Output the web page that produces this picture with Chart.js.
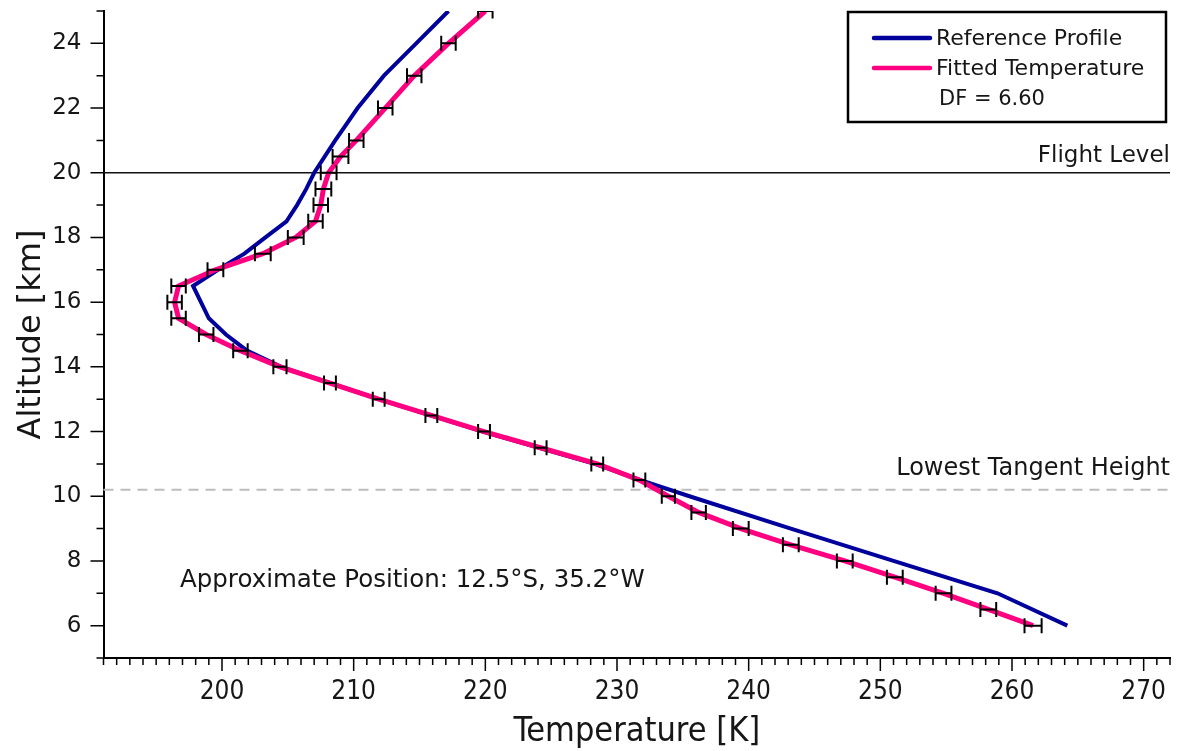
<!DOCTYPE html>
<html>
<head>
<meta charset="utf-8">
<script src="https://cdn.jsdelivr.net/npm/chart.js@4.4.0/dist/chart.umd.min.js"></script>
<style>
  html, body { margin: 0; padding: 0; background: #fff; }
  #wrap { width: 1180px; height: 751px; }
</style>
</head>
<body>
<div id="wrap"><canvas id="profileChart" width="1180" height="751"></canvas></div>
<script>
// 擬合溫度 (含誤差) 與參考剖面，高度單位 km，溫度單位 K
const fitAltitudes = [6, 6.5, 7, 7.5, 8, 8.5, 9, 9.5, 10, 10.5, 11, 11.5, 12, 12.5, 13, 13.5, 14, 14.5,
    15, 15.5, 16, 16.5, 17, 17.5, 18, 18.5, 19, 19.5, 20, 20.5, 21, 22, 23, 24, 25];
const fitTemps = [261.6, 258.2, 254.8, 251.1, 247.3, 243.2, 239.4, 236.2, 233.9, 231.7, 228.5, 224.2, 219.9, 215.9,
    211.9, 208.2, 204.4, 201.4, 198.8, 196.7, 196.4, 196.7, 199.5, 203.1, 205.6, 207.1, 207.5, 207.7,
    208.1, 209.0, 210.2, 212.4, 214.6, 217.2, 220.0];
const fitErrors = [0.65, 0.6, 0.6, 0.6, 0.6, 0.6, 0.6, 0.55, 0.5, 0.45, 0.45, 0.45, 0.45, 0.45, 0.45, 0.45, 0.5, 0.55,
    0.55, 0.55, 0.55, 0.55, 0.6, 0.6, 0.6, 0.55, 0.55, 0.6, 0.6, 0.6, 0.55, 0.55, 0.55, 0.55, 0.55];

const refAltitudes = [6, 7, 8, 9, 10, 10.5, 11, 12, 13, 14, 14.5, 15, 15.5, 16.5, 17, 17.5, 18, 18.5,
    19, 19.5, 20, 21, 22, 23, 24, 25];
const refTemps = [264.2, 258.9, 251.0, 243.2, 235.5, 231.8, 228.3, 219.8, 211.9, 204.5, 201.9, 200.3, 199.0,
    197.8, 199.7, 201.7, 203.3, 204.9, 205.7, 206.4, 207.0, 208.6, 210.3, 212.3, 214.75, 217.2];

// 座標軸刻度
const xTickValues = [200, 210, 220, 230, 240, 250, 260, 270];
const yTickValues = [6, 8, 10, 12, 14, 16, 18, 20, 22, 24];

// 參考線
const flightLevel = 20;
const lowestTangentHeight = 10.2;

const seriesLabels = ['Reference Profile', 'Fitted Temperature'];
const dfLabel = 'DF = 6.60';
const positionLabel = 'Approximate Position: 12.5°S, 35.2°W';

const FONT = '"DejaVu Sans", sans-serif';
const FONT_NARROW = '"DejaVu Sans Condensed", "DejaVu Sans", sans-serif';
const BLUE = '#00009c';
const PINK = '#ff0080';
const TEXT = '#161616';

// 參考線 (飛行高度 / 最低切線高度)
const refLinesPlugin = {
    id: 'refLines',
    beforeDatasetsDraw(chart) {
        const { ctx, chartArea: a, scales: { y } } = chart;
        ctx.save();
        const fy = y.getPixelForValue(flightLevel);
        ctx.strokeStyle = '#111';
        ctx.lineWidth = 1.6;
        ctx.beginPath();
        ctx.moveTo(a.left, fy);
        ctx.lineTo(a.right, fy);
        ctx.stroke();

        const ty = y.getPixelForValue(lowestTangentHeight);
        ctx.strokeStyle = '#bdbdbd';
        ctx.lineWidth = 2;
        ctx.setLineDash([10, 7]);
        ctx.beginPath();
        ctx.moveTo(a.left, ty);
        ctx.lineTo(a.right, ty);
        ctx.stroke();
        ctx.restore();
    }
};

// 誤差棒
const errorBarPlugin = {
    id: 'errorBars',
    afterDatasetsDraw(chart) {
        const { ctx, chartArea: a, scales: { x, y } } = chart;
        ctx.save();
        ctx.beginPath();
        ctx.rect(a.left, a.top, a.right - a.left, a.bottom - a.top);
        ctx.clip();
        ctx.strokeStyle = '#000';
        ctx.lineWidth = 2;
        fitAltitudes.forEach((alt, i) => {
            const py = y.getPixelForValue(alt);
            const x0 = x.getPixelForValue(fitTemps[i] - fitErrors[i]);
            const x1 = x.getPixelForValue(fitTemps[i] + fitErrors[i]);
            ctx.beginPath();
            ctx.moveTo(x0, py);
            ctx.lineTo(x1, py);
            ctx.moveTo(x0, py - 7.5);
            ctx.lineTo(x0, py + 7.5);
            ctx.moveTo(x1, py - 7.5);
            ctx.lineTo(x1, py + 7.5);
            ctx.stroke();
        });
        ctx.restore();
    }
};

// 刻度線、圖例與文字標註
const decorPlugin = {
    id: 'decor',
    afterDraw(chart) {
        const { ctx, chartArea: a, scales: { x, y } } = chart;
        ctx.save();
        ctx.strokeStyle = '#000';
        ctx.lineWidth = 1.5;
        ctx.beginPath();
        for (let v = Math.ceil(x.min); v <= x.max; v++) {
            const px = x.getPixelForValue(v);
            const len = v % 10 === 0 ? 13 : 7;
            ctx.moveTo(px, a.bottom);
            ctx.lineTo(px, a.bottom + len);
        }
        for (let v = Math.ceil(y.min); v <= y.max; v++) {
            const py = y.getPixelForValue(v);
            const len = v % 2 === 0 ? 13 : 7;
            ctx.moveTo(a.left, py);
            ctx.lineTo(a.left - len, py);
        }
        ctx.stroke();

        // 標註文字
        ctx.fillStyle = TEXT;
        ctx.textBaseline = 'alphabetic';
        ctx.textAlign = 'right';
        ctx.font = '23px ' + FONT;
        ctx.fillText('Flight Level', a.right, y.getPixelForValue(flightLevel) - 11);
        ctx.font = '24px ' + FONT;
        ctx.fillText('Lowest Tangent Height', a.right, y.getPixelForValue(lowestTangentHeight) - 15);
        ctx.textAlign = 'left';
        ctx.font = '24.5px ' + FONT;
        ctx.fillText(positionLabel, 180, 587);

        // 圖例
        ctx.lineWidth = 2.5;
        ctx.strokeStyle = '#000';
        ctx.strokeRect(848, 12, 318, 110);
        ctx.lineCap = 'round';
        ctx.font = '22px ' + FONT;
        ctx.textBaseline = 'middle';
        [BLUE, PINK].forEach((c, i) => {
            const ly = 38 + i * 30;
            ctx.strokeStyle = c;
            ctx.lineWidth = 4.5;
            ctx.beginPath();
            ctx.moveTo(874, ly);
            ctx.lineTo(930, ly);
            ctx.stroke();
            ctx.fillText(seriesLabels[i], 936, ly + 1);
        });
        ctx.font = '21px ' + FONT;
        ctx.fillText(dfLabel, 939, 100);
        ctx.restore();
    }
};

new Chart(document.getElementById('profileChart'), {
    type: 'scatter',
    data: {
        datasets: [
            {
                label: seriesLabels[0],
                data: refAltitudes.map((alt, i) => ({ x: refTemps[i], y: alt })),
                showLine: true,
                borderColor: BLUE,
                borderWidth: 4,
                pointRadius: 0,
                order: 1
            },
            {
                label: seriesLabels[1],
                data: fitAltitudes.map((alt, i) => ({ x: fitTemps[i], y: alt })),
                showLine: true,
                borderColor: PINK,
                borderWidth: 5,
                pointRadius: 0,
                order: 0
            }
        ]
    },
    options: {
        responsive: false,
        animation: false,
        devicePixelRatio: 1,
        layout: { padding: { top: 11, right: 10, left: 0, bottom: 0 } },
        plugins: { legend: { display: false }, tooltip: { enabled: false } },
        scales: {
            x: {
                type: 'linear',
                position: 'bottom',
                min: 191,
                max: 272,
                afterBuildTicks: s => { s.ticks = xTickValues.map(v => ({ value: v })); },
                afterFit: s => { s.height = 93; s.paddingLeft = 0; s.paddingRight = 0; },
                grid: { display: false, drawTicks: false, tickLength: 0 },
                border: { display: true, color: '#000', width: 2 },
                ticks: { padding: 19, color: TEXT, autoSkip: false, maxRotation: 0, font: { family: FONT_NARROW, size: 26 } },
                title: { display: true, text: 'Temperature [K]', color: TEXT, font: { family: FONT_NARROW, size: 34, lineHeight: 1.1 }, padding: { top: 0, bottom: 0 } }
            },
            y: {
                type: 'linear',
                min: 5,
                max: 25,
                afterBuildTicks: s => { s.ticks = yTickValues.map(v => ({ value: v })); },
                afterFit: s => { s.width = 103.5; s.paddingTop = 0; s.paddingBottom = 0; },
                grid: { display: false, drawTicks: false, tickLength: 0 },
                border: { display: true, color: '#000', width: 2 },
                ticks: { padding: 22, color: TEXT, autoSkip: false, font: { family: FONT, size: 23 } },
                title: { display: true, text: 'Altitude [km]', color: TEXT, font: { family: FONT, size: 32 }, padding: { top: 12, bottom: 0 } }
            }
        }
    },
    plugins: [refLinesPlugin, errorBarPlugin, decorPlugin]
});
</script>
</body>
</html>
